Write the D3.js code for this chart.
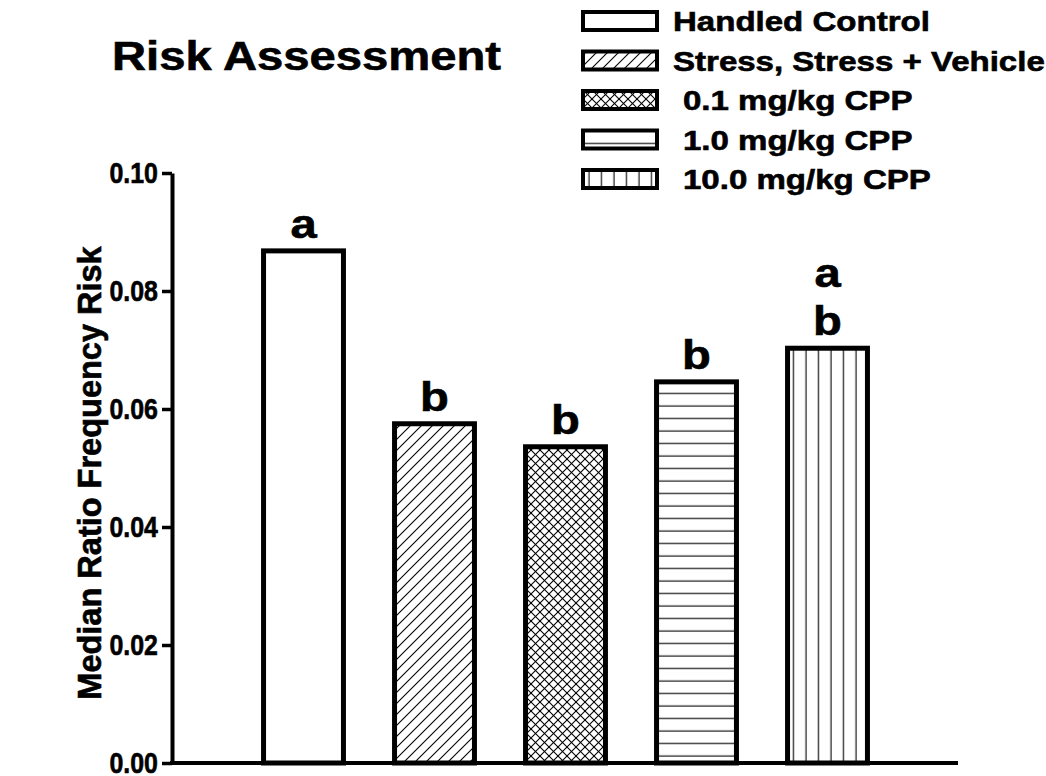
<!DOCTYPE html>
<html>
<head>
<meta charset="utf-8">
<script src="https://cdn.jsdelivr.net/npm/d3@7"></script>
<style>
  body { margin: 0; background: #fff; }
  text { font-family: "Liberation Sans", Arial, sans-serif; font-weight: bold; fill: #000; stroke: #000; stroke-width: 0.6px; }
</style>
</head>
<body>
<div id="chart"></div>
<script>

// data

let groups = ["Handled Control", "Stress, Stress + Vehicle", "0.1 mg/kg CPP", "1.0 mg/kg CPP", "10.0 mg/kg CPP"];
let medians = [0.0868, 0.0575, 0.0536, 0.0646, 0.0703];
let letters = [["a"], ["b"], ["b"], ["b"], ["a", "b"]];
let yTicks = [0, 0.02, 0.04, 0.06, 0.08, 0.10];
let fills = ["none", "diag", "cross", "horiz", "vert"];

let W = 1046, H = 776;
let margin = { top: 173, right: 88, bottom: 13, left: 172 };
let sx = 1.18; // the scan is a bit wider than it is tall, text too

let svg = d3.select("#chart")
  .append("svg")
    .attr("width", W)
    .attr("height", H);

svg.append("rect").attr("width", W).attr("height", H).attr("fill", "#fff");

// hatch patterns

let defs = svg.append("defs");

function hatch(id, size, lines) {
  let p = defs.append("pattern")
    .attr("id", id)
    .attr("patternUnits", "userSpaceOnUse")
    .attr("width", size)
    .attr("height", size);
  p.append("rect").attr("width", size).attr("height", size).attr("fill", "#fff");
  lines.forEach(l => {
    p.append("line")
      .attr("x1", l[0]).attr("y1", l[1]).attr("x2", l[2]).attr("y2", l[3])
      .attr("stroke", "#000")
      .attr("stroke-width", 1.1);
  });
}

hatch("diag", 11, [[0, 11, 11, 0], [-1, 1, 1, -1], [10, 12, 12, 10]]);
hatch("cross", 9, [[0, 9, 9, 0], [-1, 1, 1, -1], [8, 10, 10, 8], [0, 0, 9, 9], [-1, 8, 1, 10], [8, -1, 10, 1]]);
hatch("horiz", 12.5, [[0, 6, 12.5, 6]]);
hatch("vert", 12.5, [[6, 0, 6, 12.5]]);

let fillOf = i => fills[i] === "none" ? "#fff" : `url(#${fills[i]})`;

// scales

let y = d3.scaleLinear()
  .domain([0, 0.10])
  .range([H - margin.bottom, margin.top]);

let x = d3.scaleBand()
  .domain(groups)
  .range([238, 893])
  .paddingInner(0.39)
  .paddingOuter(0.195);

// bars

svg.selectAll(".bar")
  .data(medians)
  .join("rect")
  .attr("class", "bar")
  .attr("x", (d, i) => x(groups[i]))
  .attr("y", d => y(d))
  .attr("width", x.bandwidth())
  .attr("height", d => y(0) - y(d))
  .attr("fill", (d, i) => fillOf(i))
  .attr("stroke", "#000")
  .attr("stroke-width", 5);

// significance letters

letters.forEach((ls, i) => {
  let cx = x(groups[i]) + x.bandwidth() / 2;
  ls.forEach((t, j) => {
    svg.append("text")
      .attr("transform", `translate(${cx},${y(medians[i]) - 13 - (ls.length - 1 - j) * 48}) scale(${sx},1)`)
      .attr("text-anchor", "middle")
      .style("font-size", "40px")
      .text(t);
  });
});

// y axis (ticks from d3, labels drawn below)

let yAxis = svg.append("g")
  .attr("transform", `translate(${margin.left},0)`)
  .call(d3.axisLeft(y)
    .tickValues(yTicks)
    .tickFormat("")
    .tickSize(10)
    .tickSizeOuter(0));

yAxis.select(".domain").attr("stroke-width", 4);
yAxis.selectAll(".tick line").attr("stroke-width", 3.5);

svg.selectAll(".ylab")
  .data(yTicks)
  .join("text")
  .attr("class", "ylab")
  .attr("transform", d => `translate(158,${y(d)}) scale(0.86,1)`)
  .attr("dy", "0.34em")
  .attr("text-anchor", "end")
  .style("font-size", "29px")
  .text(d3.format(".2f"));

// x axis, plain line

svg.append("line")
  .attr("x1", margin.left - 2)
  .attr("x2", 958)
  .attr("y1", y(0))
  .attr("y2", y(0))
  .attr("stroke", "#000")
  .attr("stroke-width", 4);

// y axis title

svg.append("text")
  .attr("transform", `translate(101,${(y(0) + y(0.1)) / 2 + 5}) rotate(-90)`)
  .attr("text-anchor", "middle")
  .style("font-size", "32.5px")
  .text("Median Ratio Frequency Risk");

// chart title

svg.append("text")
  .attr("transform", `translate(112,70) scale(${sx},1)`)
  .style("font-size", "40px")
  .text("Risk Assessment");

// legend

let legend = svg.append("g").attr("transform", "translate(583,0)");

groups.forEach((g, i) => {
  let cy = 21 + i * 39.5;
  legend.append("rect")
    .attr("x", 0)
    .attr("y", cy - 9)
    .attr("width", 74)
    .attr("height", 18)
    .attr("fill", fillOf(i))
    .attr("stroke", "#000")
    .attr("stroke-width", 4);
  legend.append("text")
    .attr("transform", `translate(${i < 2 ? 90 : 100},${cy + 10}) scale(${sx},1)`)
    .style("font-size", "28px")
    .text(g);
});

</script>
</body>
</html>
